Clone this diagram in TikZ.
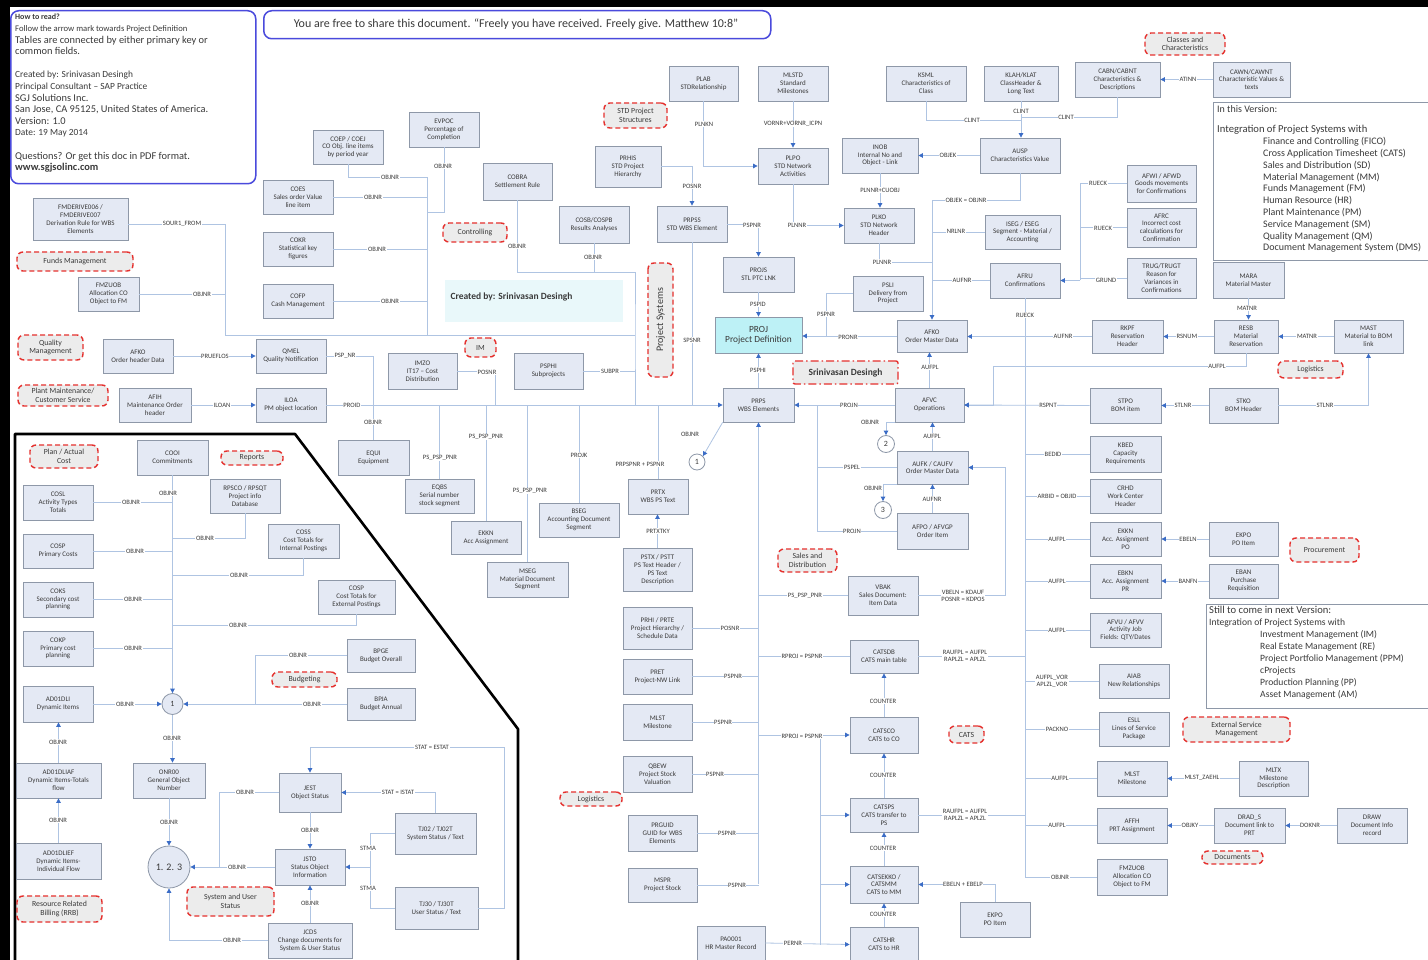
\documentclass[tikz,border=0pt]{standalone}
\usepackage{fontspec}
\setmainfont{Carlito}
\usetikzlibrary{arrows.meta,calc,shadows}
\definecolor{boxfill}{HTML}{E4E9F4}
\definecolor{boxline}{HTML}{8E98A8}
\definecolor{wire}{HTML}{AFC4E2}
\definecolor{tip}{HTML}{3A6CC6}
\definecolor{ink}{HTML}{3A3A3A}
\definecolor{tagred}{HTML}{E5312E}
\definecolor{tagfill}{HTML}{ECECEC}
\definecolor{infoblue}{HTML}{4A4ADC}
\definecolor{projfill}{HTML}{BDF1F6}
\definecolor{panelfill}{HTML}{E9F8FA}
\tikzset{
  tbl/.style={draw=boxline, fill=boxfill, line width=0.8pt, align=center, inner sep=1pt,
    text=ink, font=\fontsize{7}{7.8}\selectfont,
    drop shadow={shadow xshift=1.2pt, shadow yshift=-1.2pt, opacity=0.22}},
  tag/.style={draw=tagred, fill=tagfill, dash pattern=on 5pt off 3pt, line width=1.4pt,
    rounded corners=6pt, align=center, inner sep=1pt, text=ink, font=\fontsize{7.8}{8.4}\selectfont},
  cn/.style={draw=wire, line width=0.8pt},
  ar/.style={cn, -{Triangle[length=4.5pt,width=4.5pt,color=tip]}},
  lbl/.style={fill=white, inner sep=0.6pt, text=ink, font=\fontsize{6.6}{7}\selectfont, align=center},
  circ/.style={circle, draw=boxline, fill=white, line width=0.8pt, inner sep=0pt, text=ink,
    font=\fontsize{8}{8}\selectfont},
}
% table box from its corners: name, x1, y1, x2, y2, text
\newcommand\tb[6]{\node[tbl, minimum width={(#4-#2)*1pt}, minimum height={(#5-#3)*1pt}] (#1) at ({(#2+#4)/2},{(#3+#5)/2}) {#6};}
% red dashed area tag
\newcommand\tg[6]{\node[tag, minimum width={(#4-#2)*1pt}, minimum height={(#5-#3)*1pt}] (#1) at ({(#2+#4)/2},{(#3+#5)/2}) {#6};}
% key label on a connector
\newcounter{lblno}
\newcommand\lb[3]{\stepcounter{lblno}\node[lbl] (lb\arabic{lblno}) at (#1,#2) {#3};}
\begin{document}
\begin{tikzpicture}[x=1pt,y=-1pt]
\useasboundingbox (0,0) rectangle (1428,960);
\fill[black] (0,0) rectangle (1428,960);
\fill[white] (10,7) rectangle (1428,960);

% ---------- info panels ----------
\node[draw=infoblue, line width=1.5pt, rounded corners=8pt, minimum width=245pt, minimum height=173pt,
  anchor=north west, inner sep=0pt] (info) at (10,10) {};
\node[anchor=north west, align=left, text=ink, inner sep=0pt, font=\fontsize{10.4}{11.6}\selectfont] (infotext) at (15,14)
  {{\fontsize{8}{11.6}\selectfont\textbf{How to read?}}\\ {\fontsize{8.6}{11.6}\selectfont Follow the arrow mark towards Project Definition}\\
   Tables are connected by either primary key or\\ common fields.\\[11.6pt]
   {\fontsize{9.4}{11.6}\selectfont Created by: Srinivasan Desingh}\\ {\fontsize{9.4}{11.6}\selectfont Principal Consultant -- SAP Practice}\\ SGJ Solutions Inc.\\
   San Jose, CA 95125, United States of America.\\ Version: 1.0\\ {\fontsize{9.4}{11.6}\selectfont Date: 19 May 2014}\\[11.6pt]
   Questions? Or get this doc in PDF format.\\ \textbf{www.sgjsolinc.com}};
\node[draw=infoblue, line width=1.5pt, rounded corners=8pt, minimum width=507pt, minimum height=28pt,
  anchor=north west, inner sep=0pt] (banner) at (263,10) {};
\node[text=ink, font=\fontsize{12}{13}\selectfont] (bannertext) at (516,24)
  {You are free to share this document. ``Freely you have received. Freely give. Matthew 10:8''};
\node[fill=panelfill, minimum width=178pt, minimum height=42pt, anchor=north west, inner sep=0pt] (created) at (445,280) {};
\node[anchor=west, text=ink, font=\bfseries\fontsize{9.5}{11}\selectfont] (createdtext) at (447,297) {Created by: Srinivasan Desingh};

\node[draw=boxline, line width=0.8pt, minimum width=222pt, minimum height=158pt, anchor=north west, inner sep=0pt] (ver) at (1213,102) {};
\node[anchor=north west, align=left, text=ink, inner sep=0pt, font=\fontsize{10}{11.8}\selectfont] (vertext) at (1217,105)
  {In this Version:\\[9pt] {\fontsize{10.6}{11.8}\selectfont Integration of Project Systems with}\\
   \hspace*{46pt}Finance and Controlling (FICO)\\ \hspace*{46pt}Cross Application Timesheet (CATS)\\
   \hspace*{46pt}Sales and Distribution (SD)\\ \hspace*{46pt}Material Management (MM)\\
   \hspace*{46pt}Funds Management (FM)\\ \hspace*{46pt}Human Resource (HR)\\
   \hspace*{46pt}Plant Maintenance (PM)\\ \hspace*{46pt}Service Management (SM)\\
   \hspace*{46pt}Quality Management (QM)\\ \hspace*{46pt}Document Management System (DMS)};
\node[draw=boxline, line width=0.8pt, minimum width=230pt, minimum height=104pt, anchor=north west, inner sep=0pt] (nextv) at (1206,604) {};
\node[anchor=north west, align=left, text=ink, inner sep=0pt, font=\fontsize{9.6}{12}\selectfont] (nextvtext) at (1209,606)
  {{\fontsize{10.6}{12}\selectfont Still to come in next Version:}\\ Integration of Project Systems with\\
   \hspace*{51pt}Investment Management (IM)\\ \hspace*{51pt}Real Estate Management (RE)\\
   \hspace*{51pt}Project Portfolio Management (PPM)\\ \hspace*{51pt}cProjects\\
   \hspace*{51pt}Production Planning (PP)\\ \hspace*{51pt}Asset Management (AM)};

% ---------- frame of the costing area ----------
\draw[line width=2.6pt, line join=round] (15,962) -- (15,434) -- (295,434) -- (518,729) -- (518,962);

% ---------- tables ----------
\tb{fmder}{33}{198}{128}{240}{FMDERIVE006 /\\FMDERIVE007\\Derivation Rule for WBS\\Elements}
\tb{fmzuob}{78}{277}{139}{311}{FMZUOB\\Allocation CO\\Object to FM}
\tb{coep}{313}{130}{383}{164}{COEP / COEJ\\CO Obj. line items\\by period year}
\tb{coes}{263}{180}{333}{214}{COES\\Sales order Value\\line item}
\tb{cokr}{263}{232}{333}{266}{COKR\\Statistical key\\figures}
\tb{cofp}{263}{284}{333}{318}{COFP\\Cash Management}
\tb{evpoc}{409}{112}{479}{147}{EVPOC\\Percentage of\\Completion}
\tb{cobra}{483}{163}{552}{200}{COBRA\\Settlement Rule}
\tb{cosb}{559}{206}{629}{243}{COSB/COSPB\\Results Analyses}
\tb{prhis}{595}{146}{661}{187}{PRHIS\\STD Project\\Hierarchy}
\tb{plab}{669}{66}{738}{101}{PLAB\\STDRelationship}
\tb{prpss}{657}{206}{727}{242}{PRPSS\\STD WBS Element}
\tb{mlstd}{758}{66}{828}{101}{MLSTD\\Standard\\Milestones}
\tb{plpo}{758}{148}{828}{184}{PLPO\\STD Network\\Activities}
\tb{plko}{844}{208}{914}{243}{PLKO\\STD Network\\Header}
\tb{projs}{723}{257}{794}{292}{PROJS\\STL PTC LNK}
\tb{inob}{842}{138}{918}{173}{INOB\\Internal No and\\Object - Link}
\tb{ksml}{886}{66}{966}{101}{KSML\\Characteristics of\\Class}
\tb{klah}{984}{66}{1058}{101}{KLAH/KLAT\\ClassHeader \&\\Long Text}
\tb{ausp}{980}{138}{1060}{173}{AUSP\\Characteristics Value}
\tb{cabn}{1075}{62}{1160}{97}{CABN/CABNT\\Characteristics \&\\Descriptions}
\tb{cawn}{1213}{62}{1290}{97}{CAWN/CAWNT\\Characteristic Values \&\\texts}
\tb{afwi}{1127}{165}{1196}{202}{AFWI / AFWD\\Goods movements\\for Confirmations}
\tb{afrc}{1127}{208}{1196}{247}{AFRC\\Incorrect cost\\calculations for\\Confirmation}
\tb{trug}{1127}{258}{1196}{298}{TRUG/TRUGT\\Reason for\\Variances in\\Confirmations}
\tb{mara}{1213}{262}{1284}{298}{MARA\\Material Master}
\tb{iseg}{985}{215}{1060}{249}{ISEG / ESEG\\Segment - Material /\\Accounting}
\tb{afru}{990}{263}{1060}{298}{AFRU\\Confirmations}
\tb{psli}{853}{276}{923}{311}{PSLI\\Delivery from\\Project}
\node[tbl, fill=projfill, minimum width=87pt, minimum height=36pt, font=\fontsize{9.4}{10.4}\selectfont] (proj) at (758.5,335) {PROJ\\Project Definition};
\tb{afko}{897}{320}{967}{352}{AFKO\\Order Master Data}
\tb{rkpf}{1092}{320}{1163}{353}{RKPF\\Reservation\\Header}
\tb{resb}{1214}{320}{1278}{353}{RESB\\Material\\Reservation}
\tb{mast}{1334}{320}{1403}{353}{MAST\\Material to BOM\\link}
\tb{stpo}{1090}{388}{1161}{423}{STPO\\BOM item}
\tb{stko}{1209}{388}{1278}{423}{STKO\\BOM Header}
\tb{kbed}{1090}{436}{1161}{472}{KBED\\Capacity\\Requirements}
\tb{crhd}{1090}{479}{1161}{513}{CRHD\\Work Center\\Header}
\tb{ekkntwo}{1090}{522}{1161}{556}{EKKN\\Acc. Assignment\\PO}
\tb{ekpotwo}{1209}{522}{1278}{556}{EKPO\\PO Item}
\tb{ebkn}{1090}{564}{1161}{598}{EBKN\\Acc. Assignment\\PR}
\tb{eban}{1209}{564}{1278}{598}{EBAN\\Purchase\\Requisition}
\tb{afvu}{1090}{613}{1161}{647}{AFVU / AFVV\\Activity Job\\Fields: QTY/Dates}
\tb{aiab}{1099}{664}{1169}{698}{AIAB\\New Relationships}
\tb{esll}{1099}{712}{1169}{746}{ESLL\\Lines of Service\\Package}
\tb{mlsttwo}{1097}{761}{1167}{796}{MLST\\Milestone}
\tb{mltx}{1239}{761}{1308}{796}{MLTX\\Milestone\\Description}
\tb{affh}{1097}{808}{1167}{843}{AFFH\\PRT Assignment}
\tb{drads}{1214}{808}{1285}{843}{DRAD\_S\\Document link to\\PRT}
\tb{drawrec}{1337}{808}{1407}{843}{DRAW\\Document Info\\record}
\tb{fmzuobtwo}{1097}{859}{1167}{895}{FMZUOB\\Allocation CO\\Object to FM}
\tb{afvc}{895}{388}{964}{422}{AFVC\\Operations}
\tb{prps}{723}{388}{794}{422}{PRPS\\WBS Elements}
\tb{aufk}{897}{451}{968}{484}{AUFK / CAUFV\\Order Master Data}
\tb{afpo}{897}{513}{968}{549}{AFPO / AFVGP\\Order Item}
\tb{vbak}{848}{576}{918}{615}{VBAK\\Sales Document:\\Item Data}
\tb{catsdb}{850}{640}{918}{673}{CATSDB\\CATS main table}
\tb{catsco}{850}{717}{918}{753}{CATSCO\\CATS to CO}
\tb{catsps}{850}{798}{918}{832}{CATSPS\\CATS transfer to\\PS}
\tb{catsekko}{850}{866}{918}{903}{CATSEKKO /\\CATSMM\\CATS to MM}
\tb{catshr}{850}{927}{918}{962}{CATSHR\\CATS to HR}
\tb{ekpothree}{960}{902}{1030}{937}{EKPO\\PO Item}
\tb{pa}{697}{926}{765}{960}{PA0001\\HR Master Record}
\tb{prtx}{628}{479}{688}{514}{PRTX\\WBS PS Text}
\tb{pstx}{623}{548}{692}{591}{PSTX / PSTT\\PS Text Header /\\PS Text\\Description}
\tb{prhi}{623}{607}{692}{649}{PRHI / PRTE\\Project Hierarchy /\\Schedule Data}
\tb{pret}{623}{659}{692}{694}{PRET\\Project-NW Link}
\tb{mlst}{623}{704}{692}{740}{MLST\\Milestone}
\tb{qbew}{623}{756}{692}{792}{QBEW\\Project Stock\\Valuation}
\tb{prguid}{628}{815}{697}{851}{PRGUID\\GUID for WBS\\Elements}
\tb{mspr}{628}{868}{697}{902}{MSPR\\Project Stock}
\tb{imzo}{388}{353}{457}{389}{IMZO\\IT17 -- Cost\\Distribution}
\tb{psphi}{514}{353}{583}{389}{PSPHI\\Subprojects}
\tb{equi}{338}{440}{409}{475}{EQUI\\Equipment}
\tb{eqbs}{405}{479}{474}{513}{EQBS\\Serial number\\stock segment}
\tb{ekkn}{451}{521}{521}{554}{EKKN\\Acc Assignment}
\tb{bseg}{539}{503}{619}{537}{BSEG\\Accounting Document\\Segment}
\tb{mseg}{487}{562}{568}{597}{MSEG\\Material Document\\Segment}
\tb{afkol}{103}{339}{173}{373}{AFKO\\Order header Data}
\tb{qmel}{256}{339}{326}{373}{QMEL\\Quality Notification}
\tb{afih}{119}{388}{191}{422}{AFIH\\Maintenance Order\\header}
\tb{iloa}{256}{388}{326}{422}{ILOA\\PM object location}
\tb{cooi}{137}{440}{208}{475}{COOI\\Commitments}
\tb{rpsco}{210}{479}{280}{513}{RPSCO / RPSQT\\Project info\\Database}
\tb{cosl}{23}{485}{93}{520}{COSL\\Activity Types\\Totals}
\tb{coss}{268}{524}{339}{558}{COSS\\Cost Totals for\\Internal Postings}
\tb{cosp}{23}{534}{93}{568}{COSP\\Primary Costs}
\tb{coks}{23}{582}{93}{617}{COKS\\Secondary cost\\planning}
\tb{cospe}{318}{580}{395}{614}{COSP\\Cost Totals for\\External Postings}
\tb{cokp}{23}{631}{93}{666}{COKP\\Primary cost\\planning}
\tb{bpge}{347}{639}{415}{672}{BPGE\\Budget Overall}
\tb{bpja}{347}{688}{415}{720}{BPJA\\Budget Annual}
\tb{adli}{23}{686}{93}{722}{AD01DLI\\Dynamic Items}
\tb{adaf}{16}{763}{101}{798}{AD01DLIAF\\Dynamic Items-Totals\\flow}
\tb{onr}{133}{763}{205}{798}{ONR00\\General Object\\Number}
\tb{jest}{279}{773}{341}{812}{JEST\\Object Status}
\tb{tjtwo}{395}{813}{476}{854}{TJ02 / TJ02T\\System Status / Text}
\tb{adef}{16}{843}{101}{879}{AD01DLIEF\\Dynamic Items-\\Individual Flow}
\tb{jsto}{275}{849}{345}{885}{JSTO\\Status Object\\Information}
\tb{tjthirty}{395}{887}{478}{929}{TJ30 / TJ30T\\User Status / Text}
\tb{jcds}{268}{923}{352}{958}{JCDS\\Change documents for\\System \& User Status}

% ---------- junction circles ----------
\node[circ, fill=boxfill, minimum size=21pt] (cone) at (172.5,704) {1};
\node[circ, fill=boxfill, minimum size=42pt, font=\fontsize{10}{10}\selectfont] (cmulti) at (169,867) {1. 2. 3};
\node[circ, minimum size=16pt] (cb) at (697,462) {1};
\node[circ, minimum size=17pt] (ctwo) at (886,444) {2};
\node[circ, minimum size=17pt] (cthree) at (883,510) {3};

% ---------- area tags ----------
\tg{funds}{17}{252}{133}{271}{Funds Management}
\tg{qm}{18}{335}{83}{360}{Quality\\Management}
\tg{pmcs}{18}{385}{108}{406}{Plant Maintenance/\\Customer Service}
\tg{ctrl}{443}{223}{507}{242}{Controlling}
\tg{stdps}{604}{103}{667}{128}{STD Project\\Structures}
\node[tag, rotate=90, minimum width=114pt, minimum height=25pt, font=\fontsize{10}{11}\selectfont] (projsys) at (660.5,320) {Project Systems};
\tg{imtag}{465}{338}{496}{357}{IM}
\node[tag, dash pattern=on 8pt off 3pt on 1.5pt off 3pt, rounded corners=2pt, minimum width=105pt, minimum height=23pt,
  font=\bfseries\fontsize{9.5}{10}\selectfont] (srini) at (845.5,372.5) {Srinivasan Desingh};
\tg{sd}{778}{549}{837}{572}{Sales and\\Distribution}
\tg{classes}{1145}{33}{1225}{55}{Classes and\\Characteristics}
\tg{logist}{1278}{361}{1343}{378}{Logistics}
\tg{procure}{1290}{538}{1359}{562}{Procurement}
\tg{esm}{1183}{717}{1290}{742}{External Service\\Management}
\tg{docs}{1202}{851}{1263}{864}{Documents}
\tg{catstag}{949}{726}{984}{743}{CATS}
\tg{logistb}{560}{792}{622}{806}{Logistics}
\tg{planact}{30}{445}{98}{468}{Plan / Actual\\Cost}
\tg{reports}{221}{451}{283}{465}{Reports}
\tg{budget}{272}{672}{337}{687}{Budgeting}
\tg{sus}{187}{887}{274}{916}{System and User\\Status}
\tg{rrb}{17}{896}{102}{922}{Resource Related\\Billing (RRB)}

% ---------- bus points ----------
\coordinate (jA) at (225,335);
\coordinate (jB) at (427,335);
\coordinate (jC) at (635,335);
\coordinate (jD) at (635,272);
\coordinate (jE) at (635,405);
\coordinate (xR) at (1080,280.5);
\coordinate (tR) at (1025,877);
\coordinate (tP) at (758.5,884);
\coordinate (xQ) at (817,405);
\coordinate (xC) at (820,735);
\coordinate (xS) at (370,867);

% ---------- connectors: controlling and funds ----------
\draw[cn] ($(fmder.east)+(0,5)$) -| (jA);
\draw[cn] (fmzuob.east) -- (fmzuob.east -| jA);
\draw[cn] (jA) -- (jC);
\draw[cn] (coep.south) |- (427,177) -- (jB);
\draw[cn] (coes.east) -- (coes.east -| jB);
\draw[cn] (cokr.east) -- (cokr.east -| jB);
\draw[cn] (cofp.east) -- (cofp.east -| jB);
\draw[cn] (evpoc.south) |- (427,212);
\draw[cn] (cobra.south) |- (jD) -- (jC) -- (jE);
\draw[cn] (cosb.south) -- (cosb.south |- jD);

% ---------- connectors: objects assigned to WBS ----------
\draw[ar] (iloa.east) -- (prps.west);
\draw[ar] (afkol.east) -- (qmel.west);
\draw[ar] (afih.east) -- (iloa.west);
\draw[cn] (qmel.east) -| (373.5,405);
\draw[cn] (equi.north) -- (equi.north |- prps.west);
\draw[cn] (eqbs.north) -- (eqbs.north |- prps.west);
\draw[cn] (ekkn.north) -- (ekkn.north |- prps.west);
\draw[cn] (mseg.north) -- (mseg.north |- prps.west);
\draw[cn] (bseg.north) -- (bseg.north |- prps.west);
\draw[cn] (prtx.north) -- (prtx.north |- prps.west);
\draw[cn] (imzo.east) -| (495,405);
\draw[cn] (psphi.east) -- (psphi.east -| jC);
\draw[cn] (prpss.south) -- (prpss.south |- prps.west);
\draw[ar] (pstx.north) -- (pstx.north |- prtx.south);
\draw[ar] (prps.south west) -- (cb.north east);

% ---------- connectors: standard structures ----------
\draw[ar] (prhis.east) -| (prpss.north);
\draw[ar] (plab.south) |- (plpo.west);
\draw[ar] (mlstd.south) -- (plpo.north);
\draw[ar] (prpss.east) -| (projs.north);
\draw[ar] (plpo.south) |- (plko.west);
\draw[ar] (projs.south) -- (proj.north);
\draw[ar] (inob.south) -- (inob.south |- plko.north);
\draw[ar] (ausp.west) -- (inob.east);
\draw[cn] (ksml.south) |- (1021,120);
\draw[ar] (klah.south) -- (klah.south |- ausp.north);
\draw[cn] (cabn.south) |- (1021,117);
\draw[ar] (cawn.west) -- (cabn.east);

% ---------- connectors: orders ----------
\draw[ar] (ausp.south) |- (932,200) -- (afko.north);
\draw[cn] (iseg.west) -- (iseg.west -| afko.north);
\draw[cn] (plko.south) |- (932,262);
\draw[cn] (afru.west) -- (afru.west -| afko.north);
\draw[cn] (afwi.west) -| (xR);
\draw[cn] (afrc.west) -- (afrc.west -| xR);
\draw[cn] (trug.west) -- (trug.west -| xR);
\draw[ar] (xR) -- (afru.east);
\draw[ar] (rkpf.west) -- (rkpf.west -| afko.east);
\draw[ar] (resb.west) -- (rkpf.east);
\draw[ar] (mast.west) -- (resb.east);
\draw[ar] (mara.south) -- (mara.south |- resb.north);
\draw[ar] (resb.south) |- (993,366) |- (afvc.east);
\draw[ar] (stpo.west) -- (afvc.east);
\draw[ar] (stko.west) -- (stpo.east);
\draw[ar] (stko.east) -| (mast.south);
\draw[cn] (afru.south) -- (tR) -- (fmzuobtwo.west);
\foreach \n in {kbed,crhd,ekkntwo,ebkn,afvu,aiab,esll,mlsttwo,affh}
  \draw[cn] (\n.west) -- (\n.west -| tR);
\draw[ar] (ekpotwo.west) -- (ekkntwo.east);
\draw[ar] (eban.west) -- (ebkn.east);
\draw[ar] (mltx.west) -- (mlsttwo.east);
\draw[ar] (drads.west) -- (affh.east);
\draw[ar] (drawrec.west) -- (drads.east);

\draw[ar] (afko.west) -- (afko.west -| proj.east);
\draw[cn] (psli.west) -| (826,337);
\draw[ar] (prps.north) -- (proj.south);
\draw[ar] (afvc.north) -- (afvc.north |- afko.south);
\draw[ar] (aufk.north) -- (aufk.north |- afvc.south);
\draw[ar] (afpo.north) -- (afpo.north |- aufk.south);
\draw[ar] (afvc.west) -- (prps.east);
\draw[cn] (afpo.west) -| (xQ);
\draw[cn] (aufk.west) -- (aufk.west -| xQ);
\draw[ar] (afvc.south west) -| (ctwo.north);
\draw[ar] (aufk.south west) -| (cthree.north);

% ---------- connectors: WBS trunk and CATS ----------
\draw[ar] (tP) -- (prps.south);
\foreach \n in {prhi,pret,mlst,qbew,prguid,mspr}
  \draw[cn] (\n.east) -- (\n.east -| tP);
\draw[cn] (vbak.west) -- (vbak.west -| tP);
\draw[cn] (catsdb.west) -- (catsdb.west -| tP);
\draw[ar] (vbak.east) -| (1005,467.5) -- (aufk.east);
\draw[cn] (catsdb.east) -- (catsdb.east -| tR);
\draw[ar] (catsco.west -| tP) -- (catsco.west);
\draw[cn] (xC) -- (catshr.west -| xC);
\draw[ar] (catsps.west -| xC) -- (catsps.west);
\draw[ar] (catsekko.west -| xC) -- (catsekko.west);
\draw[ar] (pa.east) -- (catshr.west);
\draw[ar] (catsco.north) -- (catsdb.south);
\draw[ar] (catsps.north) -- (catsco.south);
\draw[ar] (catsekko.north) -- (catsps.south);
\draw[ar] (catshr.north) -- (catsekko.south);
\draw[cn] (catsps.east) -- (catsps.east -| tR);
\draw[ar] (ekpothree.north) |- (catsekko.east);

% ---------- connectors: costing area ----------
\draw[ar] (cooi.south) -- (cooi.south |- cone.north);
\foreach \n in {cosl,cosp,coks,cokp}
  \draw[cn] (\n.east) -- (\n.east -| cone);
\draw[cn] (rpsco.south) |- (172.5,538);
\draw[cn] (coss.south) |- (172.5,575);
\draw[cn] (cospe.south) |- (172.5,625);
\draw[cn] (bpge.west) -| (255,704);
\draw[ar] (bpja.west) -- (cone.east);
\draw[ar] (adli.east) -- (cone.west);
\draw[ar] (cone.south) -- (cone.south |- onr.north);
\draw[ar] (adaf.north) -- (adaf.north |- adli.south);
\draw[ar] (adef.north) -- (adaf.south);
\draw[ar] (onr.south) -- (cmulti.north);
\draw[ar] (jsto.west) -- (cmulti.east);
\draw[cn] (jest.west) -| (219,867);
\draw[ar] (jest.south) -- (jsto.north);
\draw[ar] (jcds.north) -- (jsto.south);
\draw[ar] (jcds.west) -| (cmulti.south);
\draw[cn] (tjtwo.west) -| (xS);
\draw[cn] (tjthirty.west) -| (xS);
\draw[ar] (xS) -- (jsto.east);
\draw[ar] (tjtwo.north) |- (jest.east);
\draw[ar] (tjthirty.east) -| (504,747) -| (jest.north);

% ---------- key labels ----------
\lb{182}{224}{SOUR1\_FROM}
\lb{202}{294}{OBJNR}
\lb{390}{177}{OBJNR}\lb{373}{197}{OBJNR}\lb{377}{249}{OBJNR}\lb{390}{301}{OBJNR}
\lb{443}{166}{OBJNR}\lb{517}{246}{OBJNR}\lb{593}{257}{OBJNR}
\lb{352}{405}{PROID}\lb{345}{356}{PSP\_NR}\lb{215}{356}{PRUEFLOS}\lb{222}{405}{ILOAN}
\lb{373}{422}{OBJNR}\lb{440}{458}{PS\_PSP\_PNR}\lb{486}{437}{PS\_PSP\_PNR}\lb{530}{491}{PS\_PSP\_PNR}
\lb{579}{455}{PROJK}\lb{487}{372}{POSNR}\lb{610}{371}{SUBPR}\lb{692}{340}{SPSNR}
\lb{640}{464}{PRPSPNR + PSPNR}\lb{690}{434}{OBJNR}\lb{658}{531}{PRTXTKY}
\lb{692}{186}{POSNR}\lb{704}{124}{PLNKN}\lb{793}{124}{VORNR+VORNR\_ICPN}
\lb{752}{225}{PSPNR}\lb{797}{225}{PLNNR}\lb{758}{304}{PSPID}\lb{880}{190}{PLNNR+CUOBJ}
\lb{948}{155}{OBJEK}\lb{972}{120}{CLINT}\lb{1021}{111}{CLINT}\lb{1066}{117}{CLINT}\lb{1188}{79}{ATINN}
\lb{966}{200}{OBJEK = OBJNR}\lb{956}{231}{NRLNR}\lb{882}{262}{PLNNR}\lb{962}{280}{AUFNR}
\lb{1098}{183}{RUECK}\lb{1103}{228}{RUECK}\lb{1106}{280}{GRUND}\lb{1025}{315}{RUECK}
\lb{1063}{336}{AUFNR}\lb{1187}{336}{RSNUM}\lb{1307}{336}{MATNR}\lb{1247}{308}{MATNR}
\lb{1217}{366}{AUFPL}\lb{1183}{405}{STLNR}\lb{1325}{405}{STLNR}\lb{1048}{405}{RSPNT}
\lb{848}{337}{PRONR}\lb{826}{314}{PSPNR}\lb{758}{370}{PSPHI}\lb{849}{405}{PROJN}
\lb{930}{367}{AUFPL}\lb{870}{422}{OBJNR}\lb{932}{436}{AUFPL}\lb{852}{467}{PSPEL}
\lb{873}{488}{OBJNR}\lb{932}{499}{AUFNR}\lb{852}{531}{PROJN}\lb{805}{596}{PS\_PSP\_PNR}
\lb{963}{596}{VBELN = KDAUF\\POSNR = KDPOS}
\lb{730}{628}{POSNR}\lb{733}{676}{PSPNR}\lb{723}{722}{PSPNR}\lb{715}{774}{PSPNR}
\lb{727}{833}{PSPNR}\lb{737}{885}{PSPNR}
\lb{802}{656}{RPROJ = PSPNR}\lb{802}{736}{RPROJ = PSPNR}
\lb{965}{656}{RAUFPL = AUFPL\\RAPLZL = APLZL}\lb{965}{815}{RAUFPL = AUFPL\\RAPLZL = APLZL}
\lb{883}{701}{COUNTER}\lb{883}{775}{COUNTER}\lb{883}{848}{COUNTER}\lb{883}{914}{COUNTER}
\lb{963}{884}{EBELN + EBELP}\lb{793}{943}{PERNR}
\lb{1053}{454}{BEDID}\lb{1057}{496}{ARBID = OBJID}\lb{1057}{539}{AUFPL}\lb{1057}{581}{AUFPL}
\lb{1057}{630}{AUFPL}\lb{1052}{681}{AUFPL\_VOR\\APLZL\_VOR}\lb{1057}{729}{PACKNO}
\lb{1060}{778}{AUFPL}\lb{1057}{825}{AUFPL}\lb{1060}{877}{OBJNR}
\lb{1188}{539}{EBELN}\lb{1188}{581}{BANFN}\lb{1202}{778}{MLST\_ZAEHL}
\lb{1190}{825}{OBJKY}\lb{1310}{825}{DOKNR}
\lb{168}{493}{OBJNR}\lb{131}{502}{OBJNR}\lb{135}{551}{OBJNR}\lb{205}{538}{OBJNR}
\lb{239}{575}{OBJNR}\lb{133}{599}{OBJNR}\lb{238}{625}{OBJNR}\lb{133}{648}{OBJNR}
\lb{298}{655}{OBJNR}\lb{312}{704}{OBJNR}\lb{125}{704}{OBJNR}\lb{172}{738}{OBJNR}
\lb{58}{742}{OBJNR}\lb{58}{820}{OBJNR}\lb{169}{822}{OBJNR}\lb{245}{792}{OBJNR}
\lb{310}{830}{OBJNR}\lb{237}{867}{OBJNR}\lb{310}{903}{OBJNR}\lb{232}{940}{OBJNR}
\lb{368}{848}{STMA}\lb{368}{888}{STMA}\lb{398}{792}{STAT = ISTAT}\lb{432}{747}{STAT = ESTAT}
\end{tikzpicture}
\end{document}
